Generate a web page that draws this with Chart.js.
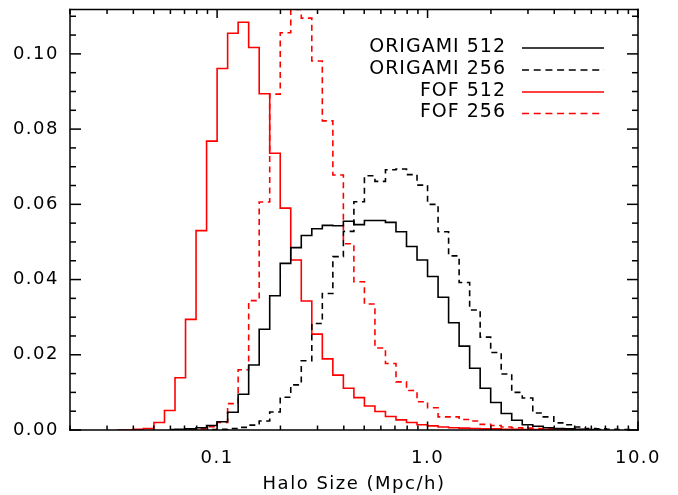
<!DOCTYPE html>
<html lang="en">
<head>
  <meta charset="UTF-8">
  <title>Halo Size distribution</title>
  <script src="https://cdn.jsdelivr.net/npm/chart.js"></script>
  <style>
    html, body { margin: 0; padding: 0; background: #fff; }
  </style>
</head>
<body>
<canvas id="haloChart" width="678" height="495"></canvas>
<script>
// bin centres, log10(Mpc/h), 0.05 dex bins
const binLog = [
  -1.475, -1.425, -1.375, -1.325, -1.275, -1.225, -1.175, -1.125, -1.075, -1.025,
  -0.975, -0.925, -0.875, -0.825, -0.775, -0.725, -0.675, -0.625, -0.575, -0.525,
  -0.475, -0.425, -0.375, -0.325, -0.275, -0.225, -0.175, -0.125, -0.075, -0.025,
   0.025,  0.075,  0.125,  0.175,  0.225,  0.275,  0.325,  0.375,  0.425,  0.475,
   0.525,  0.575,  0.625,  0.675,  0.725,  0.775,  0.825,  0.875,  0.925,  0.975
];

// fraction of haloes per bin (null = outside the histogram range)
const origami512 = [
  null, null, null, null, null, 0.0001, 0.0002, 0.0003, 0.0006, 0.0012,
  0.0022, 0.0047, 0.0095, 0.0173, 0.0268, 0.0357, 0.0443, 0.0485, 0.0517, 0.0535,
  0.0544, 0.0543, 0.0555, 0.0546, 0.0557, 0.0557, 0.0552, 0.0527, 0.0488, 0.0452,
  0.0408, 0.0353, 0.0285, 0.0223, 0.0164, 0.0111, 0.0073, 0.0044, 0.0026, 0.0014,
  0.0010, 0.0006, 0.0004, 0.0003, 0.0002, 0.0001, 0.0001, null, null, null
];
const origami256 = [
  null, null, null, null, null, null, null, null, null, 0.0001,
  0.0002, 0.0004, 0.0007, 0.0013, 0.0024, 0.0048, 0.0087, 0.0120, 0.0184, 0.0283,
  0.0363, 0.0461, 0.0528, 0.0607, 0.0676, 0.0661, 0.0692, 0.0694, 0.0679, 0.0651,
  0.0600, 0.0527, 0.0463, 0.0392, 0.0319, 0.0247, 0.0206, 0.0149, 0.0100, 0.0085,
  0.0045, 0.0035, 0.0019, 0.0014, 0.0008, 0.0004, 0.0003, 0.0002, 0.0001, 0.0001
];
const fof512 = [
  0.0000, 0.0000, 0.0002, 0.0004, 0.0020, 0.0052, 0.0139, 0.0294, 0.0530, 0.0768,
  0.0961, 0.1055, 0.1084, 0.1017, 0.0894, 0.0736, 0.0590, 0.0452, 0.0343, 0.0255,
  0.0189, 0.0146, 0.0111, 0.0086, 0.0064, 0.0049, 0.0036, 0.0027, 0.0020, 0.0014,
  0.0011, 0.0008, 0.0006, 0.0005, 0.0004, 0.0003, 0.0003, 0.0002, 0.0002, 0.0001,
  0.0001, 0.0001, 0.0001, 0.0001, 0.0000, 0.0000, 0.0000, null, null, null
];
const fof256 = [
  null, null, null, null, null, null, null, 0.0001, 0.0003, 0.0009,
  0.0020, 0.0070, 0.0160, 0.0344, 0.0606, 0.0893, 0.1056, 0.1118, 0.1095, 0.0981,
  0.0822, 0.0678, 0.0495, 0.0394, 0.0335, 0.0218, 0.0177, 0.0128, 0.0105, 0.0075,
  0.0059, 0.0035, 0.0035, 0.0028, 0.0024, 0.0015, 0.0012, 0.0008, 0.0006, 0.0005,
  0.0004, 0.0003, 0.0002, 0.0002, 0.0001, 0.0001, null, null, null, null
];

const seriesNames = ['ORIGAMI 512', 'ORIGAMI 256', 'FOF 512', 'FOF 256'];

const xTickValues = [0.1, 1, 10];
const xTickLabels = ['0.1', '1.0', '10.0'];
const xMinorTicks = [0.02, 0.03, 0.04, 0.05, 0.06, 0.07, 0.08, 0.09,
                     0.2, 0.3, 0.4, 0.5, 0.6, 0.7, 0.8, 0.9,
                     2, 3, 4, 5, 6, 7, 8, 9];
const yTickValues = [0, 0.02, 0.04, 0.06, 0.08, 0.10];
const yTickLabels = ['0.00', '0.02', '0.04', '0.06', '0.08', '0.10'];
const yMinorTicks = [0.005, 0.010, 0.015, 0.025, 0.030, 0.035, 0.045, 0.050, 0.055,
                     0.065, 0.070, 0.075, 0.085, 0.090, 0.095, 0.105, 0.110];

const FONT = 'DejaVu Sans';

function toPoints(values) {
  const pts = [];
  values.forEach((v, i) => {
    if (v !== null) pts.push({ x: Math.pow(10, binLog[i]), y: v });
  });
  return pts;
}

function histSet(label, values, color, dashed) {
  return {
    label: label,
    data: toPoints(values),
    borderColor: color,
    borderWidth: 1.6,
    borderDash: dashed ? [6, 4.5] : [],
    stepped: 'middle',
    pointRadius: 0,
    fill: false
  };
}

// box, inward ticks on all four sides and the legend
const framePlugin = {
  id: 'frame',
  beforeDraw(chart) {
    chart.ctx.letterSpacing = '1.5px';
  },
  afterDraw(chart) {
    const ctx = chart.ctx;
    const a = chart.chartArea;
    const xs = chart.scales.x, ys = chart.scales.y;
    ctx.save();
    ctx.setLineDash([]);
    ctx.fillStyle = '#000';
    const w = 1.5;
    // frame
    ctx.fillRect(a.left - w / 2, a.top - w / 2, a.right - a.left + w, w);
    ctx.fillRect(a.left - w / 2, a.bottom - w / 2, a.right - a.left + w, w);
    ctx.fillRect(a.left - w / 2, a.top - w / 2, w, a.bottom - a.top + w);
    ctx.fillRect(a.right - w / 2, a.top - w / 2, w, a.bottom - a.top + w);

    const xt = (v, len) => {
      const px = xs.getPixelForValue(v);
      ctx.fillRect(px - w / 2, a.bottom - len, w, len);
      ctx.fillRect(px - w / 2, a.top, w, len);
    };
    const yt = (v, len) => {
      const py = ys.getPixelForValue(v);
      ctx.fillRect(a.left, py - w / 2, len, w);
      ctx.fillRect(a.right - len, py - w / 2, len, w);
    };
    xTickValues.forEach(v => xt(v, 8.5));
    xMinorTicks.forEach(v => xt(v, 4.5));
    yTickValues.forEach(v => yt(v, 11));
    yMinorTicks.forEach(v => yt(v, 6));

    // legend
    ctx.font = '19px "' + FONT + '"';
    ctx.letterSpacing = '1px';
    ctx.textAlign = 'right';
    ctx.textBaseline = 'middle';
    const rowY = [47, 69, 91, 112.5];
    chart.data.datasets.forEach((ds, i) => {
      ctx.fillStyle = '#000';
      ctx.fillText(ds.label, 506, rowY[i]);
      ctx.beginPath();
      ctx.strokeStyle = ds.borderColor;
      ctx.lineWidth = 1.6;
      ctx.setLineDash(ds.borderDash.length ? [7, 4.7] : []);
      ctx.moveTo(522, rowY[i] + 1);
      ctx.lineTo(604, rowY[i] + 1);
      ctx.stroke();
    });
    ctx.restore();
  }
};

new Chart(document.getElementById('haloChart'), {
  type: 'line',
  data: {
    datasets: [
      histSet(seriesNames[0], origami512, '#000000', false),
      histSet(seriesNames[1], origami256, '#000000', true),
      histSet(seriesNames[2], fof512, '#ff0000', false),
      histSet(seriesNames[3], fof256, '#ff0000', true)
    ]
  },
  options: {
    responsive: false,
    animation: false,
    events: [],
    layout: { padding: { top: 9.5, right: 40, left: 0, bottom: 0 } },
    plugins: {
      legend: { display: false },
      tooltip: { enabled: false }
    },
    scales: {
      x: {
        type: 'logarithmic',
        min: 0.02,
        max: 10,
        grid: { display: false, drawTicks: false },
        border: { display: false },
        afterBuildTicks(scale) {
          scale.ticks = xTickValues.map(v => ({ value: v, major: true }));
        },
        afterFit(scale) {
          scale.height = 65;
          scale.paddingLeft = 0;
          scale.paddingRight = 0;
        },
        ticks: {
          autoSkip: false,
          maxRotation: 0,
          padding: 18,
          color: '#000',
          font: { family: FONT, size: 18 },
          callback(value) {
            const i = xTickValues.indexOf(value);
            return i >= 0 ? xTickLabels[i] : '';
          }
        },
        title: {
          display: true,
          text: 'Halo Size (Mpc/h)',
          color: '#000',
          font: { family: FONT, size: 18 },
          padding: { top: 0, bottom: 0 }
        }
      },
      y: {
        min: 0,
        max: 0.1118,
        grid: { display: false, drawTicks: false },
        border: { display: false },
        afterBuildTicks(scale) {
          scale.ticks = yTickValues.map(v => ({ value: v }));
        },
        afterFit(scale) {
          scale.width = 70;
          scale.paddingTop = 0;
          scale.paddingBottom = 0;
        },
        ticks: {
          padding: 11,
          color: '#000',
          font: { family: FONT, size: 18 },
          callback(value, index) {
            return yTickLabels[index];
          }
        }
      }
    }
  },
  plugins: [framePlugin]
});
</script>
</body>
</html>
